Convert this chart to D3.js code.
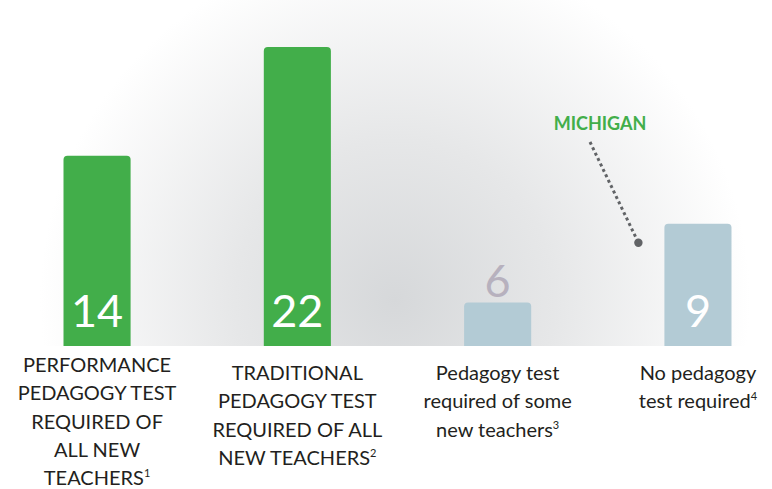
<!DOCTYPE html>
<html>
<head>
<meta charset="utf-8">
<script src="https://cdn.jsdelivr.net/npm/d3@7"></script>
<style>
  body { margin: 0; background: #fff; }
  svg { display: block; font-family: Lato, "Open Sans", sans-serif; }
</style>
</head>
<body>
<script>
// values printed on the bars
const categories = ["performance", "traditional", "some", "none"];
const values = [14, 22, 6, 9];
// bar lengths as drawn (the "6" bar is drawn short, label sits above it)
const barLengths = [14, 22, 3.2, 9];
const highlight = [true, true, false, false];
const labelLines = [
  ["PERFORMANCE", "PEDAGOGY TEST", "REQUIRED OF", "ALL NEW", "TEACHERS"],
  ["TRADITIONAL", "PEDAGOGY TEST", "REQUIRED OF ALL", "NEW TEACHERS"],
  ["Pedagogy test", "required of some", "new teachers"],
  ["No pedagogy", "test required"]
];
const footnotes = ["1", "2", "3", "4"];
const calloutText = "MICHIGAN";

const W = 772, H = 489;
const baseY = 346;

const svg = d3.select("body").append("svg")
  .attr("width", W)
  .attr("height", H);

// soft grey glow behind the bars
const defs = svg.append("defs");
const grad = defs.append("radialGradient")
  .attr("id", "glow")
  .attr("gradientUnits", "userSpaceOnUse")
  .attr("cx", 395).attr("cy", 300).attr("r", 355);
grad.append("stop").attr("offset", "0").attr("stop-color", "#d6d8da");
grad.append("stop").attr("offset", "0.45").attr("stop-color", "#e6e7e8");
grad.append("stop").attr("offset", "1").attr("stop-color", "#ffffff");

svg.append("rect")
  .attr("x", 0).attr("y", 0)
  .attr("width", W).attr("height", baseY)
  .attr("fill", "url(#glow)");

// scales
const x = d3.scaleBand()
  .domain(categories)
  .range([63.5, 731.5])
  .paddingInner(0.665)
  .paddingOuter(0);

const y = d3.scaleLinear()
  .domain([0, 22])
  .range([baseY, 47]);

// bars with rounded tops
function barPath(d, i) {
  const x0 = x(categories[i]), w = x.bandwidth();
  const top = y(barLengths[i]), r = 4;
  return `M${x0},${baseY}V${top + r}Q${x0},${top} ${x0 + r},${top}` +
    `H${x0 + w - r}Q${x0 + w},${top} ${x0 + w},${top + r}V${baseY}Z`;
}

svg.selectAll(".bar")
  .data(values)
  .enter().append("path")
    .attr("class", "bar")
    .attr("d", barPath)
    .attr("fill", (d, i) => highlight[i] ? "#42ae4a" : "#b3cbd5");

// value labels
svg.selectAll(".val")
  .data(values)
  .enter().append("text")
    .attr("class", "val")
    .attr("x", (d, i) => x(categories[i]) + x.bandwidth() / 2)
    .attr("y", (d, i) => barLengths[i] < 5 ? y(barLengths[i]) - 6 : baseY - 19)
    .attr("text-anchor", "middle")
    .attr("font-size", 45)
    .attr("font-weight", 400)
    .attr("fill", (d, i) => barLengths[i] < 5 ? "#b7b1be" : "#fff")
    .text(d => d);

// category labels
const lineH = 28.3;
const labelTop = [365, 373, 373, 373];
labelLines.forEach((lines, i) => {
  const t = svg.append("text")
    .attr("text-anchor", "middle")
    .attr("font-size", 20)
    .attr("fill", "#231f20");
  const cx = x(categories[i]) + x.bandwidth() / 2;
  lines.forEach((ln, j) => {
    t.append("tspan")
      .attr("x", cx)
      .attr("y", labelTop[i] + j * lineH + 7)
      .text(ln);
    if (j === lines.length - 1) {
      t.append("tspan")
        .attr("font-size", 11)
        .attr("dy", -8)
        .text(footnotes[i]);
    }
  });
});

// Michigan callout
const mx = x("none") - 26, my = y(7.6);
svg.append("line")
  .attr("x1", 590).attr("y1", 142)
  .attr("x2", mx).attr("y2", my)
  .attr("stroke", "#616366")
  .attr("stroke-width", 3)
  .attr("stroke-dasharray", "3 3");
svg.append("circle")
  .attr("cx", mx).attr("cy", my)
  .attr("r", 4.2)
  .attr("fill", "#616366");
svg.append("text")
  .attr("x", 600).attr("y", 130)
  .attr("text-anchor", "middle")
  .attr("font-size", 18)
  .attr("font-weight", 700)
  .attr("fill", "#42ae4a")
  .text(calloutText);
</script>
</body>
</html>
